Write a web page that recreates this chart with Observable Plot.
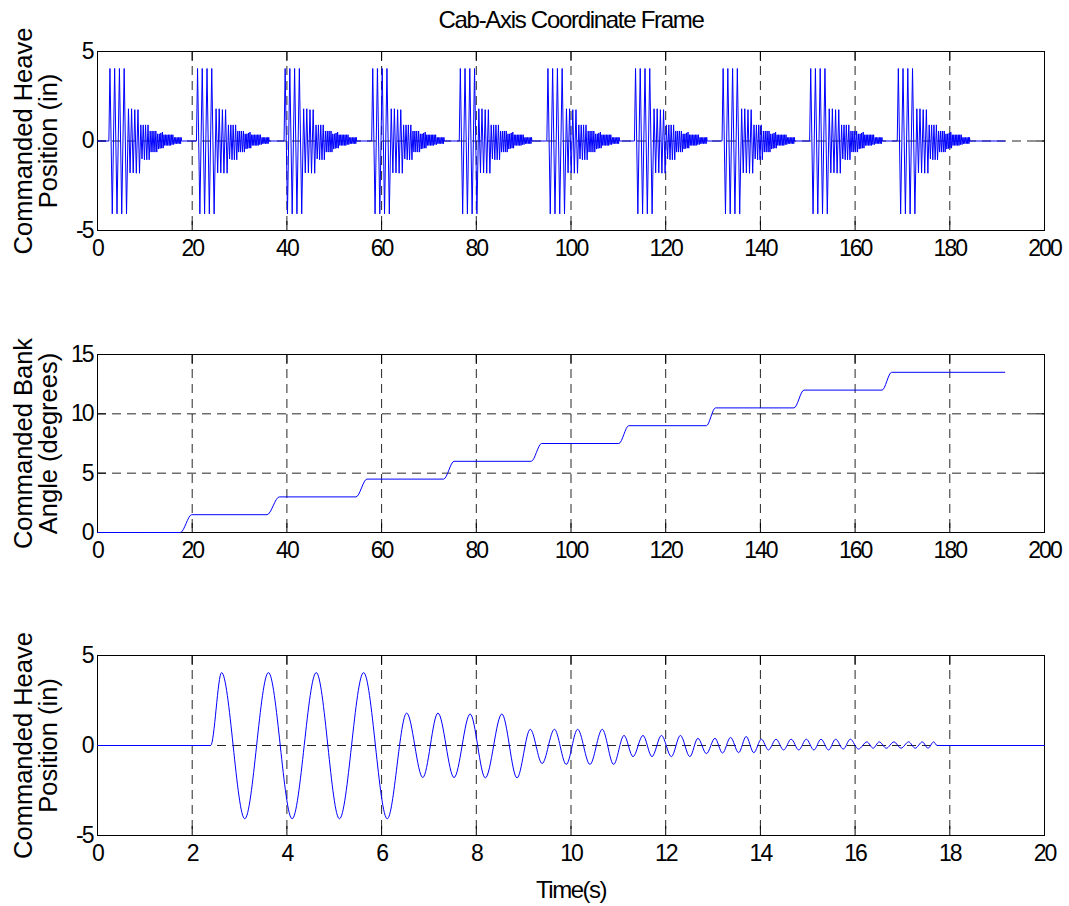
<!DOCTYPE html>
<html><head><meta charset="utf-8">
<script src="https://cdn.jsdelivr.net/npm/d3@7"></script>
<script src="https://cdn.jsdelivr.net/npm/@observablehq/plot@0.6"></script>
<style>
body{margin:0;background:#fff;}
#chart{width:1069px;height:906px;position:relative;background:#fff;}
#chart svg{display:block;position:absolute;left:0;}
</style></head><body><div id="chart"></div>
<script>
// ---- data ----
// one heave burst (extrema of the commanded heave, seconds / inches), as in the 0-20 s panel
const heaveTime = [0, 2.39, 2.62, 3.11, 3.61, 4.11, 4.62, 5.11, 5.62, 6.12, 6.53, 6.87, 7.19, 7.53, 7.87, 8.19, 8.54, 8.86,
  9.14, 9.39, 9.65, 9.90, 10.14, 10.40, 10.66, 10.90, 11.12, 11.31, 11.52, 11.71, 11.91, 12.12, 12.31, 12.51,
  12.68, 12.86, 13.04, 13.20, 13.37, 13.54, 13.70, 13.86, 14.02, 14.17, 14.33, 14.49, 14.65, 14.81, 14.97, 15.13,
  15.28, 15.44, 15.59, 15.75, 15.90, 16.07, 16.25, 16.38, 16.51, 16.66, 16.82, 16.97, 17.13, 17.27, 17.42, 17.54,
  17.66, 17.73, 20];
const heaveValue = [0, 0, 4.05, -4.07, 4.05, -4.07, 4.05, -4.07, 4.05, -4.07, 1.8, -1.78, 1.8, -1.78, 1.75, -1.8, 1.75, -1.8,
  0.9, -1.0, 0.9, -1.05, 0.9, -1.05, 0.9, -1.05, 0.56, -0.62, 0.56, -0.62, 0.56, -0.62, 0.56, -0.62,
  0.4, -0.45, 0.4, -0.42, 0.45, -0.4, 0.5, -0.4, 0.35, -0.25, 0.35, -0.25, 0.35, -0.25, 0.35, -0.25,
  0.35, -0.25, 0.35, -0.2, 0.35, -0.2, 0.2, -0.15, 0.2, -0.15, 0.2, -0.15, 0.2, -0.15, 0.2, -0.15,
  0.2, 0, 0];
// start time of each heave burst in the 0-200 s panel
const burstStart = [2.4, 20.9, 39.4, 57.9, 76.4, 94.9, 113.4, 131.9, 150.4, 168.9];
const seriesEnd = 191.6;
// bank angle steps
const stepStart = [17.5, 35.8, 54.6, 73.1, 91.6, 110.1, 128.6, 147.1, 165.7];
const stepEnd   = [19.9, 38.4, 56.9, 75.3, 93.8, 112.2, 130.5, 149.2, 167.7];
const stepLevel = [1.5, 3, 4.5, 6, 7.5, 9, 10.5, 12, 13.5];
// ticks
const xTicksLong  = [0, 20, 40, 60, 80, 100, 120, 140, 160, 180, 200];
const xTicksShort = [0, 2, 4, 6, 8, 10, 12, 14, 16, 18, 20];
const yTicksHeave = [-5, 0, 5];
const yTicksBank  = [0, 5, 10, 15];
const gridLong  = [20, 40, 60, 80, 100, 120, 140, 160, 180];
const gridShort = [2, 4, 6, 8, 10, 12, 14, 16, 18];
const title = "Cab-Axis Coordinate Frame";
const yLabelHeave = "Commanded Heave\nPosition (in)";
const yLabelBank = "Commanded Bank\nAngle (degrees)";
const xLabel = "Time(s)";

// ---- tables built from the arrays ----
const bottomData = heaveTime.map((t, i) => ({t, v: heaveValue[i]}));
const topData = [{t: 0, v: 0}];
for (const s of burstStart) {
  for (let i = 1; i < heaveTime.length - 1; i++) topData.push({t: s + heaveTime[i] - heaveTime[1], v: heaveValue[i]});
}
topData.push({t: seriesEnd, v: 0});
const bankData = [{t: 0, v: 0}];
let prev = 0;
stepStart.forEach((s, i) => { bankData.push({t: s, v: prev}); bankData.push({t: stepEnd[i], v: stepLevel[i]}); prev = stepLevel[i]; });
bankData.push({t: seriesEnd, v: prev});

const FONT = "'Liberation Sans', Arial, Helvetica, sans-serif";
const TICKFONT = 23;
const fmt = d => String(d);

function panel({data, xDomain, yDomain, xTicks, yTicks, gridX, gridY, top, height, mt, mb, ylabel, curve, extra = []}) {
  const dash = {stroke: "#000", strokeOpacity: 0.85, strokeWidth: 1, strokeDasharray: "9,6"};
  const chart = Plot.plot({
    width: 1069, height, marginLeft: 97, marginRight: 25, marginTop: mt, marginBottom: mb,
    style: {fontFamily: FONT, background: "white", color: "black", overflow: "visible"},
    x: {domain: xDomain}, y: {domain: yDomain},
    marks: [
      Plot.gridX(gridX, dash),
      Plot.gridY(gridY, dash),
      Plot.frame({stroke: "#000", strokeWidth: 1}),
      Plot.axisX(xTicks, {anchor: "bottom", tickSize: -9, tickFormat: () => "", label: null}),
      Plot.axisX(xTicks, {anchor: "top", tickSize: -9, tickFormat: () => "", label: null}),
      Plot.axisY(yTicks, {anchor: "left", tickSize: -9, tickFormat: () => "", label: null}),
      Plot.axisY(yTicks, {anchor: "right", tickSize: -9, tickFormat: () => "", label: null}),
      Plot.line(data, {x: "t", y: "v", stroke: "#0000ff", strokeWidth: 1, curve}),
      Plot.axisX(xTicks, {anchor: "bottom", tickSize: 0, tickPadding: 9, fontSize: TICKFONT, label: null, tickFormat: fmt}),
      Plot.axisY(yTicks, {anchor: "left", tickSize: 0, tickPadding: 5, fontSize: TICKFONT, label: null, tickFormat: fmt}),
      Plot.text([ylabel], {frameAnchor: "left", dx: -61, rotate: -90, fontSize: 25.5, lineHeight: 1.0,
        lineAnchor: "middle", textAnchor: "middle"}),
      ...extra
    ]
  });
  d3.select(chart).selectAll('g[aria-label="x-axis tick label"] text, g[aria-label="y-axis tick label"] text')
    .style("letter-spacing", "-2px");
  chart.style.top = top + "px";
  return chart;
}

const root = document.getElementById("chart");
const p1 = panel({
  data: topData, xDomain: [0, 200], yDomain: [-5, 5], xTicks: xTicksLong, yTicks: yTicksHeave,
  gridX: gridLong, gridY: [0], top: 0, height: 300, mt: 51, mb: 70, ylabel: yLabelHeave, curve: "linear",
  extra: [Plot.text([title], {frameAnchor: "top", dy: -31, fontSize: 24, lineAnchor: "middle"})]
});
d3.select(p1).selectAll('g[aria-label="text"]').filter((d, i, n) => n[i].textContent === title).selectAll("text").style("letter-spacing", "-1.3px");
root.append(p1);
root.append(panel({
  data: bankData, xDomain: [0, 200], yDomain: [0, 15], xTicks: xTicksLong, yTicks: yTicksBank,
  gridX: gridLong, gridY: [5, 10], top: 300, height: 300, mt: 54, mb: 68, ylabel: yLabelBank, curve: "monotone-x"
}));
const p3 = panel({
  data: bottomData, xDomain: [0, 20], yDomain: [-5, 5], xTicks: xTicksShort, yTicks: yTicksHeave,
  gridX: gridShort, gridY: [0], top: 600, height: 306, mt: 55, mb: 71, ylabel: yLabelHeave, curve: "monotone-x",
  extra: [Plot.text([xLabel], {frameAnchor: "bottom", dy: 55, fontSize: 24, lineAnchor: "middle"})]
});
d3.select(p3).selectAll('g[aria-label="text"]').filter((d, i, n) => n[i].textContent === xLabel).selectAll("text").style("letter-spacing", "-1.5px");
root.append(p3);
</script></body></html>
